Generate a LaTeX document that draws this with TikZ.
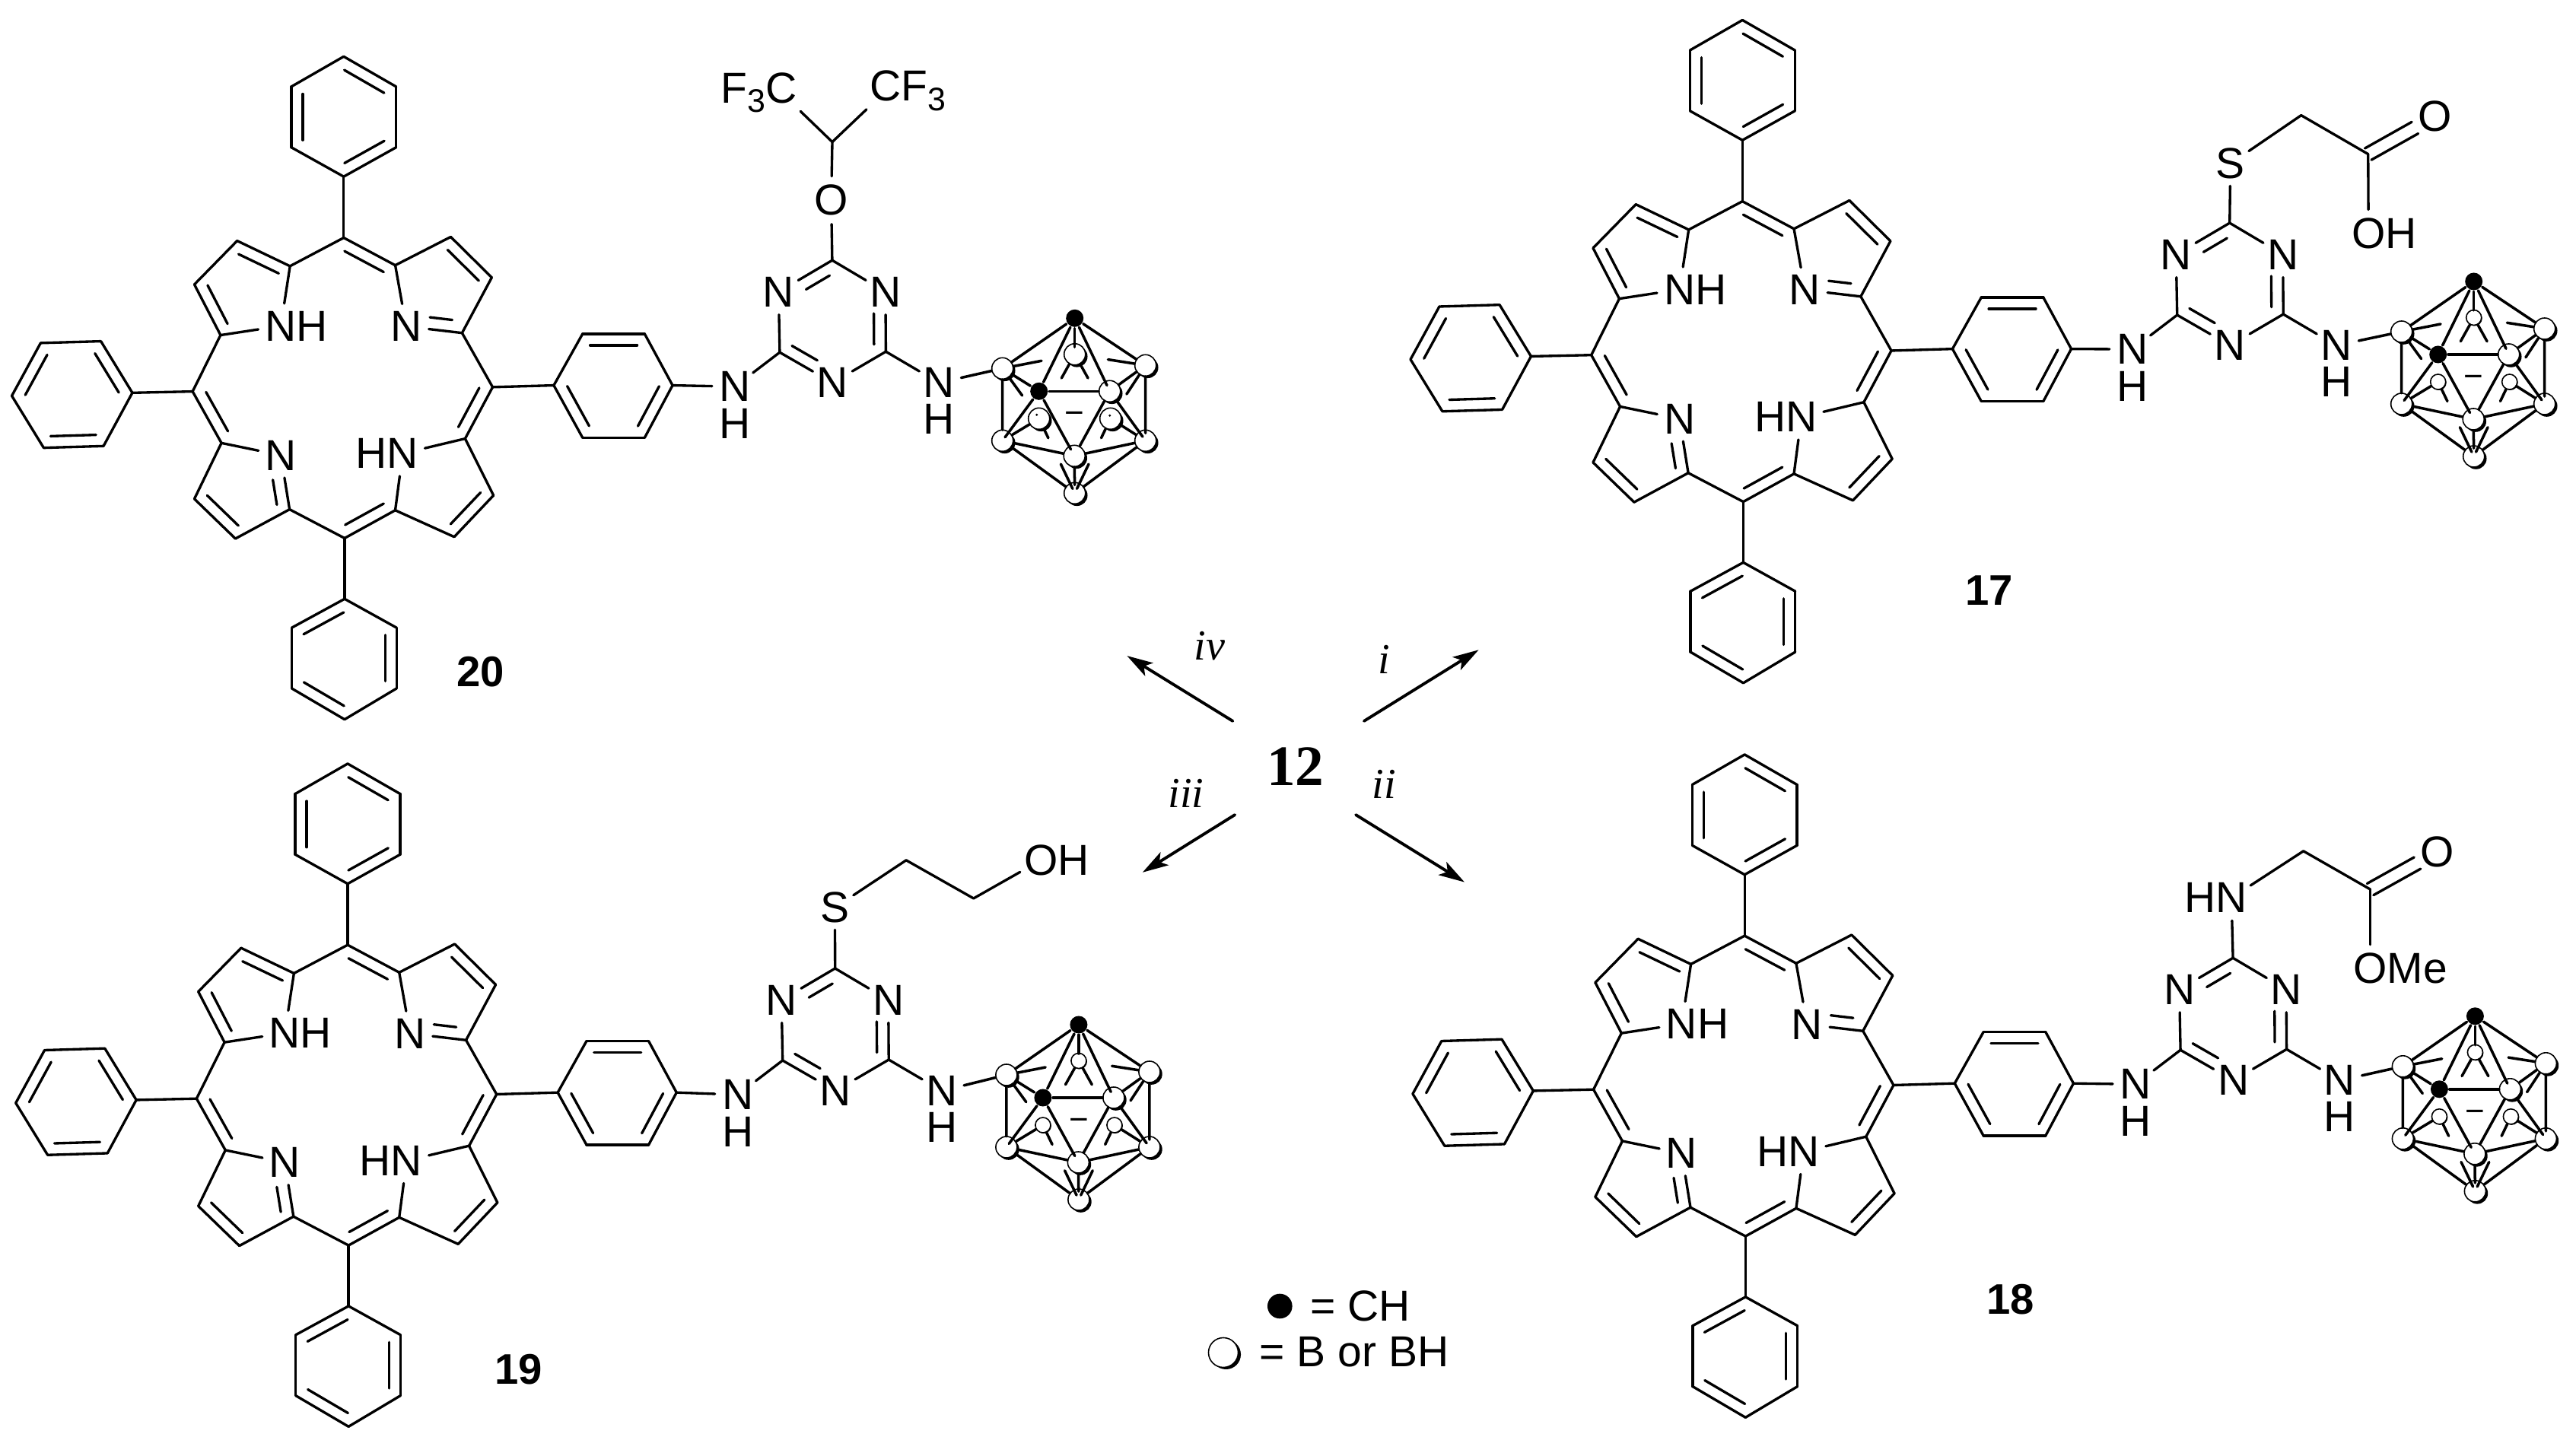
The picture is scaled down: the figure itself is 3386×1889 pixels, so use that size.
\documentclass[tikz,border=0pt]{standalone}
\usepackage{fontspec}
\setmainfont{Liberation Sans}
\newfontfamily\timesf{Liberation Serif}
\usetikzlibrary{calc,arrows.meta,shadows}
\newcommand\atomfont{\fontsize{16.2}{18}\selectfont}
\newcommand\subthree{\raisebox{-.22em}{\fontsize{12.2}{13}\selectfont 3}}
\newcommand\underH[1]{N\smash{\llap{\raisebox{-#1}{H}}}}
\tikzset{
  atom/.style={circle,inner sep=0pt,font=\atomfont},
  plain/.style={inner sep=0pt,font=\atomfont},
  compound/.style={inner sep=0pt,font=\fontsize{16}{18}\selectfont\bfseries},
  reagent/.style={inner sep=0pt,font=\timesf\itshape\fontsize{16}{18}\selectfont},
  ball/.style={circle,draw=black,fill=white,line width=.45pt,inner sep=0pt,minimum size=.28cm,
    drop shadow={shadow xshift=.028cm,shadow yshift=-.028cm,opacity=1,fill=black}},
  backsmall/.style={circle,draw=black,fill=white,line width=.45pt,inner sep=0pt,minimum size=.2cm,
    drop shadow={shadow xshift=.01cm,shadow yshift=-.01cm,opacity=1,fill=black}},
  legendball/.style={circle,draw=black,fill=white,line width=.45pt,inner sep=0pt,minimum size=.39cm,
    drop shadow={shadow xshift=.035cm,shadow yshift=-.025cm,opacity=1,fill=black}},
  blackball/.style={circle,fill=black,inner sep=0pt,minimum size=.23cm},
  arrowline/.style={line width=1.1pt,-{Stealth[length=.34cm,width=.2cm,inset=.08cm]}},
  cageline/.style={line width=1pt}
}
% double bond, inner line on the left of a->b
\newcommand\dblb[2]{%
  \draw (#1) -- (#2);
  \draw ($(#1)!.12!(#2)!.15cm!90:(#2)$) -- ($(#2)!.12!(#1)!.15cm!-90:(#1)$);
}
% double bond with chosen extent of the inner line
\newcommand\dbn[4]{%
  \draw (#1) -- (#2);
  \draw ($(#1)!#3!(#2)!.155cm!90:(#2)$) -- ($(#1)!#4!(#2)!.155cm!90:(#2)$);
}
% C=O, two lines either side of the axis
\newcommand\cdouble[2]{%
  \draw ($(#1)!.087cm!90:(#2)$) -- ($(#1)!.7!(#2)!.087cm!90:(#2)$);
  \draw ($(#1)!.087cm!-90:(#2)$) -- ($(#1)!.7!(#2)!.087cm!-90:(#2)$);
}
\newcommand\porph[3]{%
\begin{scope}[shift={(#2,#3)},x=.00574cm,y=-.00574cm,shift={(-787,-785)}]
  \coordinate (#1m1) at (787,440); \coordinate (#1m2) at (441,792);
  \coordinate (#1m3) at (789,1128); \coordinate (#1m4) at (1128,782);
  \coordinate (#1a1) at (664,505); \coordinate (#1a2) at (905,503);
  \coordinate (#1a3) at (505,663); \coordinate (#1a4) at (507,910);
  \coordinate (#1a5) at (663,1062); \coordinate (#1a6) at (905,1064);
  \coordinate (#1a7) at (1065,900); \coordinate (#1a8) at (1058,658);
  \coordinate (#1b1) at (543,447); \coordinate (#1b2) at (445,547);
  \coordinate (#1b3) at (445,1038); \coordinate (#1b4) at (539,1129);
  \coordinate (#1b5) at (1040,1125); \coordinate (#1b6) at (1130,1030);
  \coordinate (#1b7) at (1126,531); \coordinate (#1b8) at (1032,438);
  \node[atom] (#1n1) at (643,642) {N\rlap{H}};
  \node[atom] (#1n2) at (930,643) {N};
  \node[atom] (#1n3) at (643,938) {N};
  \node[atom] (#1n4) at (922,934) {\llap{H}N};
  \dblb{#1a1}{#1b1} \draw (#1b1) -- (#1b2); \dblb{#1b2}{#1a3}
  \draw (#1a1) -- (#1n1); \draw (#1a3) -- (#1n1);
  \draw (#1m1) -- (#1a1); \dblb{#1a2}{#1m1}
  \draw (#1a2) -- (#1n2); \dbn{#1n2}{#1a8}{.4}{.8}
  \draw (#1a2) -- (#1b8); \dblb{#1b7}{#1b8} \draw (#1b7) -- (#1a8);
  \draw (#1a8) -- (#1m4); \dblb{#1a7}{#1m4}
  \draw (#1a7) -- (#1n4); \draw (#1a6) -- (#1n4);
  \draw (#1a7) -- (#1b6); \dblb{#1b5}{#1b6} \draw (#1b5) -- (#1a6);
  \dblb{#1m3}{#1a6} \draw (#1m3) -- (#1a5);
  \dbn{#1a5}{#1n3}{.12}{.58}
  \draw (#1a5) -- (#1b4); \dblb{#1b3}{#1b4} \draw (#1b3) -- (#1a4);
  \draw (#1a4) -- (#1n3); \dblb{#1m2}{#1a4} \draw (#1m2) -- (#1a3);
  % top phenyl
  \coordinate (#1t1) at (787,300); \coordinate (#1t2) at (907,233);
  \coordinate (#1t3) at (907,94); \coordinate (#1t4) at (787,25);
  \coordinate (#1t5) at (667,94); \coordinate (#1t6) at (667,233);
  \dblb{#1t1}{#1t2} \draw (#1t2) -- (#1t3); \dblb{#1t3}{#1t4}
  \draw (#1t4) -- (#1t5); \dblb{#1t5}{#1t6} \draw (#1t6) -- (#1t1);
  \draw (#1m1) -- (#1t1);
  % left phenyl
  \coordinate (#1l1) at (303,795); \coordinate (#1l2) at (231,677);
  \coordinate (#1l3) at (93,681); \coordinate (#1l4) at (27,802);
  \coordinate (#1l5) at (100,921); \coordinate (#1l6) at (237,917);
  \dblb{#1l1}{#1l2} \draw (#1l2) -- (#1l3); \dblb{#1l3}{#1l4}
  \draw (#1l4) -- (#1l5); \dblb{#1l5}{#1l6} \draw (#1l6) -- (#1l1);
  \draw (#1m2) -- (#1l1);
  % bottom phenyl
  \coordinate (#1d1) at (789,1267); \coordinate (#1d2) at (668,1333);
  \coordinate (#1d3) at (668,1472); \coordinate (#1d4) at (789,1543);
  \coordinate (#1d5) at (908,1472); \coordinate (#1d6) at (908,1333);
  \dblb{#1d1}{#1d2} \draw (#1d2) -- (#1d3); \dblb{#1d3}{#1d4}
  \draw (#1d4) -- (#1d5); \dblb{#1d5}{#1d6} \draw (#1d6) -- (#1d1);
  \draw (#1m3) -- (#1d1);
  % right aryl
  \coordinate (#1r1) at (1268,778); \coordinate (#1r2) at (1334,898);
  \coordinate (#1r3) at (1476,898); \coordinate (#1r4) at (1540,778);
  \coordinate (#1r5) at (1476,660); \coordinate (#1r6) at (1334,660);
  \dblb{#1r1}{#1r2} \draw (#1r2) -- (#1r3); \dblb{#1r3}{#1r4}
  \draw (#1r4) -- (#1r5); \dblb{#1r5}{#1r6} \draw (#1r6) -- (#1r1);
  \draw (#1m4) -- (#1r1);
\end{scope}}
\newcommand\triaz[3]{%
\begin{scope}[shift={(#2,#3)}]
  \node[atom] (#1N1) at (80,2) {\underH{.49cm}};
  \coordinate (#1Cbl) at (139,-43);
  \node[atom] (#1Nl) at (137.5,-122.5) {N};
  \coordinate (#1Ct) at (208,-164);
  \node[atom] (#1Nr) at (278,-122.5) {N};
  \coordinate (#1Cbr) at (278.5,-44);
  \node[atom] (#1Nb) at (208.5,-3) {N};
  \node[atom] (#1N2) at (348.3,-3) {\underH{.48cm}};
  \draw (#1r4) -- (#1N1);
  \draw (#1Cbl) -- (#1N1);
  \draw (#1Cbl) -- (#1Nl);
  \dbn{#1Ct}{#1Nl}{.16}{.6}
  \draw (#1Ct) -- (#1Nr);
  \dbn{#1Cbr}{#1Nr}{.12}{.64}
  \draw (#1Cbr) -- (#1Nb);
  \dbn{#1Cbl}{#1Nb}{.12}{.6}
  \draw (#1Cbr) -- (#1N2);
\end{scope}}
\newcommand\cage[4]{%
\begin{scope}[shift={(#2,#3)},cageline]
  \node[#4] (#1BT) at (0,47.5) {};
  \node[#4] (#1BL) at (-47,132) {};
  \node[#4] (#1BR) at (47,132) {};
  \node[blackball] (#1top) at (0,0) {};
  \node[ball] (#1LU) at (-95,66) {};
  \node[ball] (#1RU) at (93,62) {};
  \node[blackball] (#1ML) at (-47,96) {};
  \node[ball] (#1MR) at (46,96) {};
  \node[ball] (#1LL) at (-95,161) {};
  \node[ball] (#1RL) at (93,161) {};
  \node[ball] (#1FB) at (-.5,181) {};
  \node[ball] (#1BO) at (0,230) {};
  \node[inner sep=0pt,font=\fontsize{12.5}{14}\selectfont] (#1minus) at (0,131.5) {−};
  \draw (#1N2) -- (#1LU);
  \draw (#1top) -- (#1LU); \draw (#1top) -- (#1RU); \draw (#1top) -- (#1ML);
  \draw (#1top) -- ($(#1top)!.92!(#1MR)$);
  \draw (#1top) -- ($(#1top)!.8!(#1BT)$);
  \draw (#1ML) -- (#1MR); \draw (#1ML) -- ($(#1ML)!.9!(#1FB)$);
  \draw (#1MR) -- (#1FB); \draw (#1LU) -- (#1ML); \draw (#1RU) -- (#1MR);
  \draw (#1LU) -- ($(#1LU)!.85!(#1LL)$); \draw (#1RU) -- ($(#1RU)!.9!(#1RL)$);
  \draw (#1ML) -- ($(#1ML)!.93!(#1LL)$); \draw (#1MR) -- ($(#1MR)!.92!(#1RL)$);
  \draw (#1LL) -- (#1FB); \draw (#1RL) -- (#1FB);
  \draw (#1LL) -- (#1BO); \draw (#1RL) -- (#1BO);
  \draw (#1FB) -- ($(#1FB)!.78!(#1BO)$);
  \draw (#1LL) -- (#1BL); \draw (#1RL) -- (#1BR);
  \draw (#1BT) -- ($(#1BT)!.37!(#1BL)$); \draw (#1BT) -- ($(#1BT)!.37!(#1BR)$);
  \draw (#1LU) -- ($(#1LU)!.54!(#1BT)$); \draw (#1LU) -- ($(#1LU)!.54!(#1BL)$);
  \draw (#1RU) -- ($(#1RU)!.53!(#1BT)$); \draw (#1RU) -- ($(#1RU)!.54!(#1BR)$);
  \draw (#1BL) -- ($(#1BL)!.26!(#1BO)$); \draw (#1BR) -- ($(#1BR)!.26!(#1BO)$);
  \draw ($(#1BO)!.06!(#1BL)$) -- ($(#1BO)!.39!(#1BL)$);
  \draw ($(#1BO)!.06!(#1BR)$) -- ($(#1BO)!.39!(#1BR)$);
\end{scope}}
\begin{document}
\begin{tikzpicture}[x=.01cm,y=-.01cm,line width=.95pt,line cap=round,line join=round]
\useasboundingbox (0,0) rectangle (3386,1889);
\fill[white] (0,0) rectangle (3386,1889);
% ---------- 20
\porph{A}{451.8}{510.6}
\triaz{A}{885.9}{506.2}
\cage{A}{1412.7}{418.3}{ball}
\fill ($(ABL)+(-3,-5)$) circle[radius=.016cm];
\fill ($(ABR)+(-1,-4)$) circle[radius=.016cm];
\begin{scope}[shift={(885.9,506.2)}]
  \node[atom] (AO) at (206.7,-243) {O};
  \coordinate (ACH) at (208.1,-319.6);
  \node[atom] (AF1) at (141.1,-384.2) {\llap{F\subthree}C};
  \node[atom] (AF2) at (278.5,-386.6) {C\rlap{F\subthree}};
  \draw (ACt) -- (AO); \draw (AO) -- (ACH);
  \draw (ACH) -- (AF1); \draw (ACH) -- (AF2);
\end{scope}
\node[compound] (lab20) at (632,883) {20};
% ---------- 17
\porph{B}{2290.3}{462.7}
\triaz{B}{2722.75}{457.1}
\cage{B}{3251.7}{370}{backsmall}
\begin{scope}[shift={(2722.75,457.1)}]
  \node[atom] (BS) at (209,-242) {S};
  \coordinate (BCa) at (302,-305.5);
  \coordinate (BCb) at (390,-254.5);
  \node[atom] (BO1) at (478,-304) {O};
  \node[atom] (BO2) at (390.5,-150) {O\rlap{H}};
  \draw (BCt) -- (BS); \draw (BS) -- (BCa); \draw (BCa) -- (BCb);
  \draw (BCb) -- (BO2); \cdouble{BCb}{BO1}
\end{scope}
\node[compound] (lab17) at (2614.6,776) {17};
% ---------- 18
\porph{C}{2293.2}{1428.2}
\triaz{C}{2727.1}{1423.3}
\cage{C}{3253.4}{1335.8}{backsmall}
\begin{scope}[shift={(2727.1,1423.3)}]
  \node[atom] (CX) at (206,-243) {\llap{H}N};
  \coordinate (CCa) at (300.6,-304.5);
  \coordinate (CCb) at (388.5,-254.2);
  \node[atom] (CO1) at (476.9,-303.6) {O};
  \node[atom] (CO2) at (388.5,-150) {O\rlap{Me}};
  \draw (CCt) -- (CX); \draw (CX) -- (CCa); \draw (CCa) -- (CCb);
  \draw (CCb) -- (CO2); \cdouble{CCb}{CO1}
\end{scope}
\node[compound] (lab18) at (2642.8,1707.7) {18};
% ---------- 19
\porph{D}{457}{1440.2}
\triaz{D}{889.7}{1437}
\cage{D}{1417.9}{1347}{backsmall}
\begin{scope}[shift={(889.7,1437)}]
  \node[atom] (DS) at (207.7,-244) {S};
  \coordinate (DCa) at (301.4,-306.2);
  \coordinate (DCb) at (390,-256);
  \node[atom] (DO) at (478.5,-306.2) {O\rlap{H}};
  \draw (DCt) -- (DS); \draw (DS) -- (DCa); \draw (DCa) -- (DCb); \draw (DCb) -- (DO);
\end{scope}
\node[compound] (lab19) at (681.4,1800) {19};
% ---------- centre
\node[inner sep=0pt,font=\timesf\bfseries\fontsize{21.4}{24}\selectfont] (twelve) at (1702.9,1007.5) {12};
\coordinate (ivs) at (1620.4,947.9); \coordinate (ive) at (1481.4,862.1);
\coordinate (is) at (1792.9,947.9); \coordinate (ie) at (1943.6,854.3);
\coordinate (iiis) at (1623.2,1071.1); \coordinate (iiie) at (1501.8,1146.8);
\coordinate (iis) at (1782.1,1071.1); \coordinate (iie) at (1925,1159.6);
\draw[arrowline] (ivs) -- (ive);
\draw[arrowline] (is) -- (ie);
\draw[arrowline] (iiis) -- (iiie);
\draw[arrowline] (iis) -- (iie);
\node[reagent] (liv) at (1590,849.6) {iv};
\node[reagent] (li) at (1819.6,866.8) {i};
\node[reagent] (liii) at (1559,1042.5) {iii};
\node[reagent] (lii) at (1819,1031) {ii};
% ---------- legend
\node[circle,fill=black,inner sep=0pt,minimum size=.326cm] (legc) at (1682.3,1717) {};
\node[plain,anchor=west] (legct) at (1721,1716.7) {= CH};
\node[legendball] (legb) at (1608,1778) {};
\node[plain,anchor=west] (legbt) at (1654,1777.6) {= B or BH};
\end{tikzpicture}
\end{document}
